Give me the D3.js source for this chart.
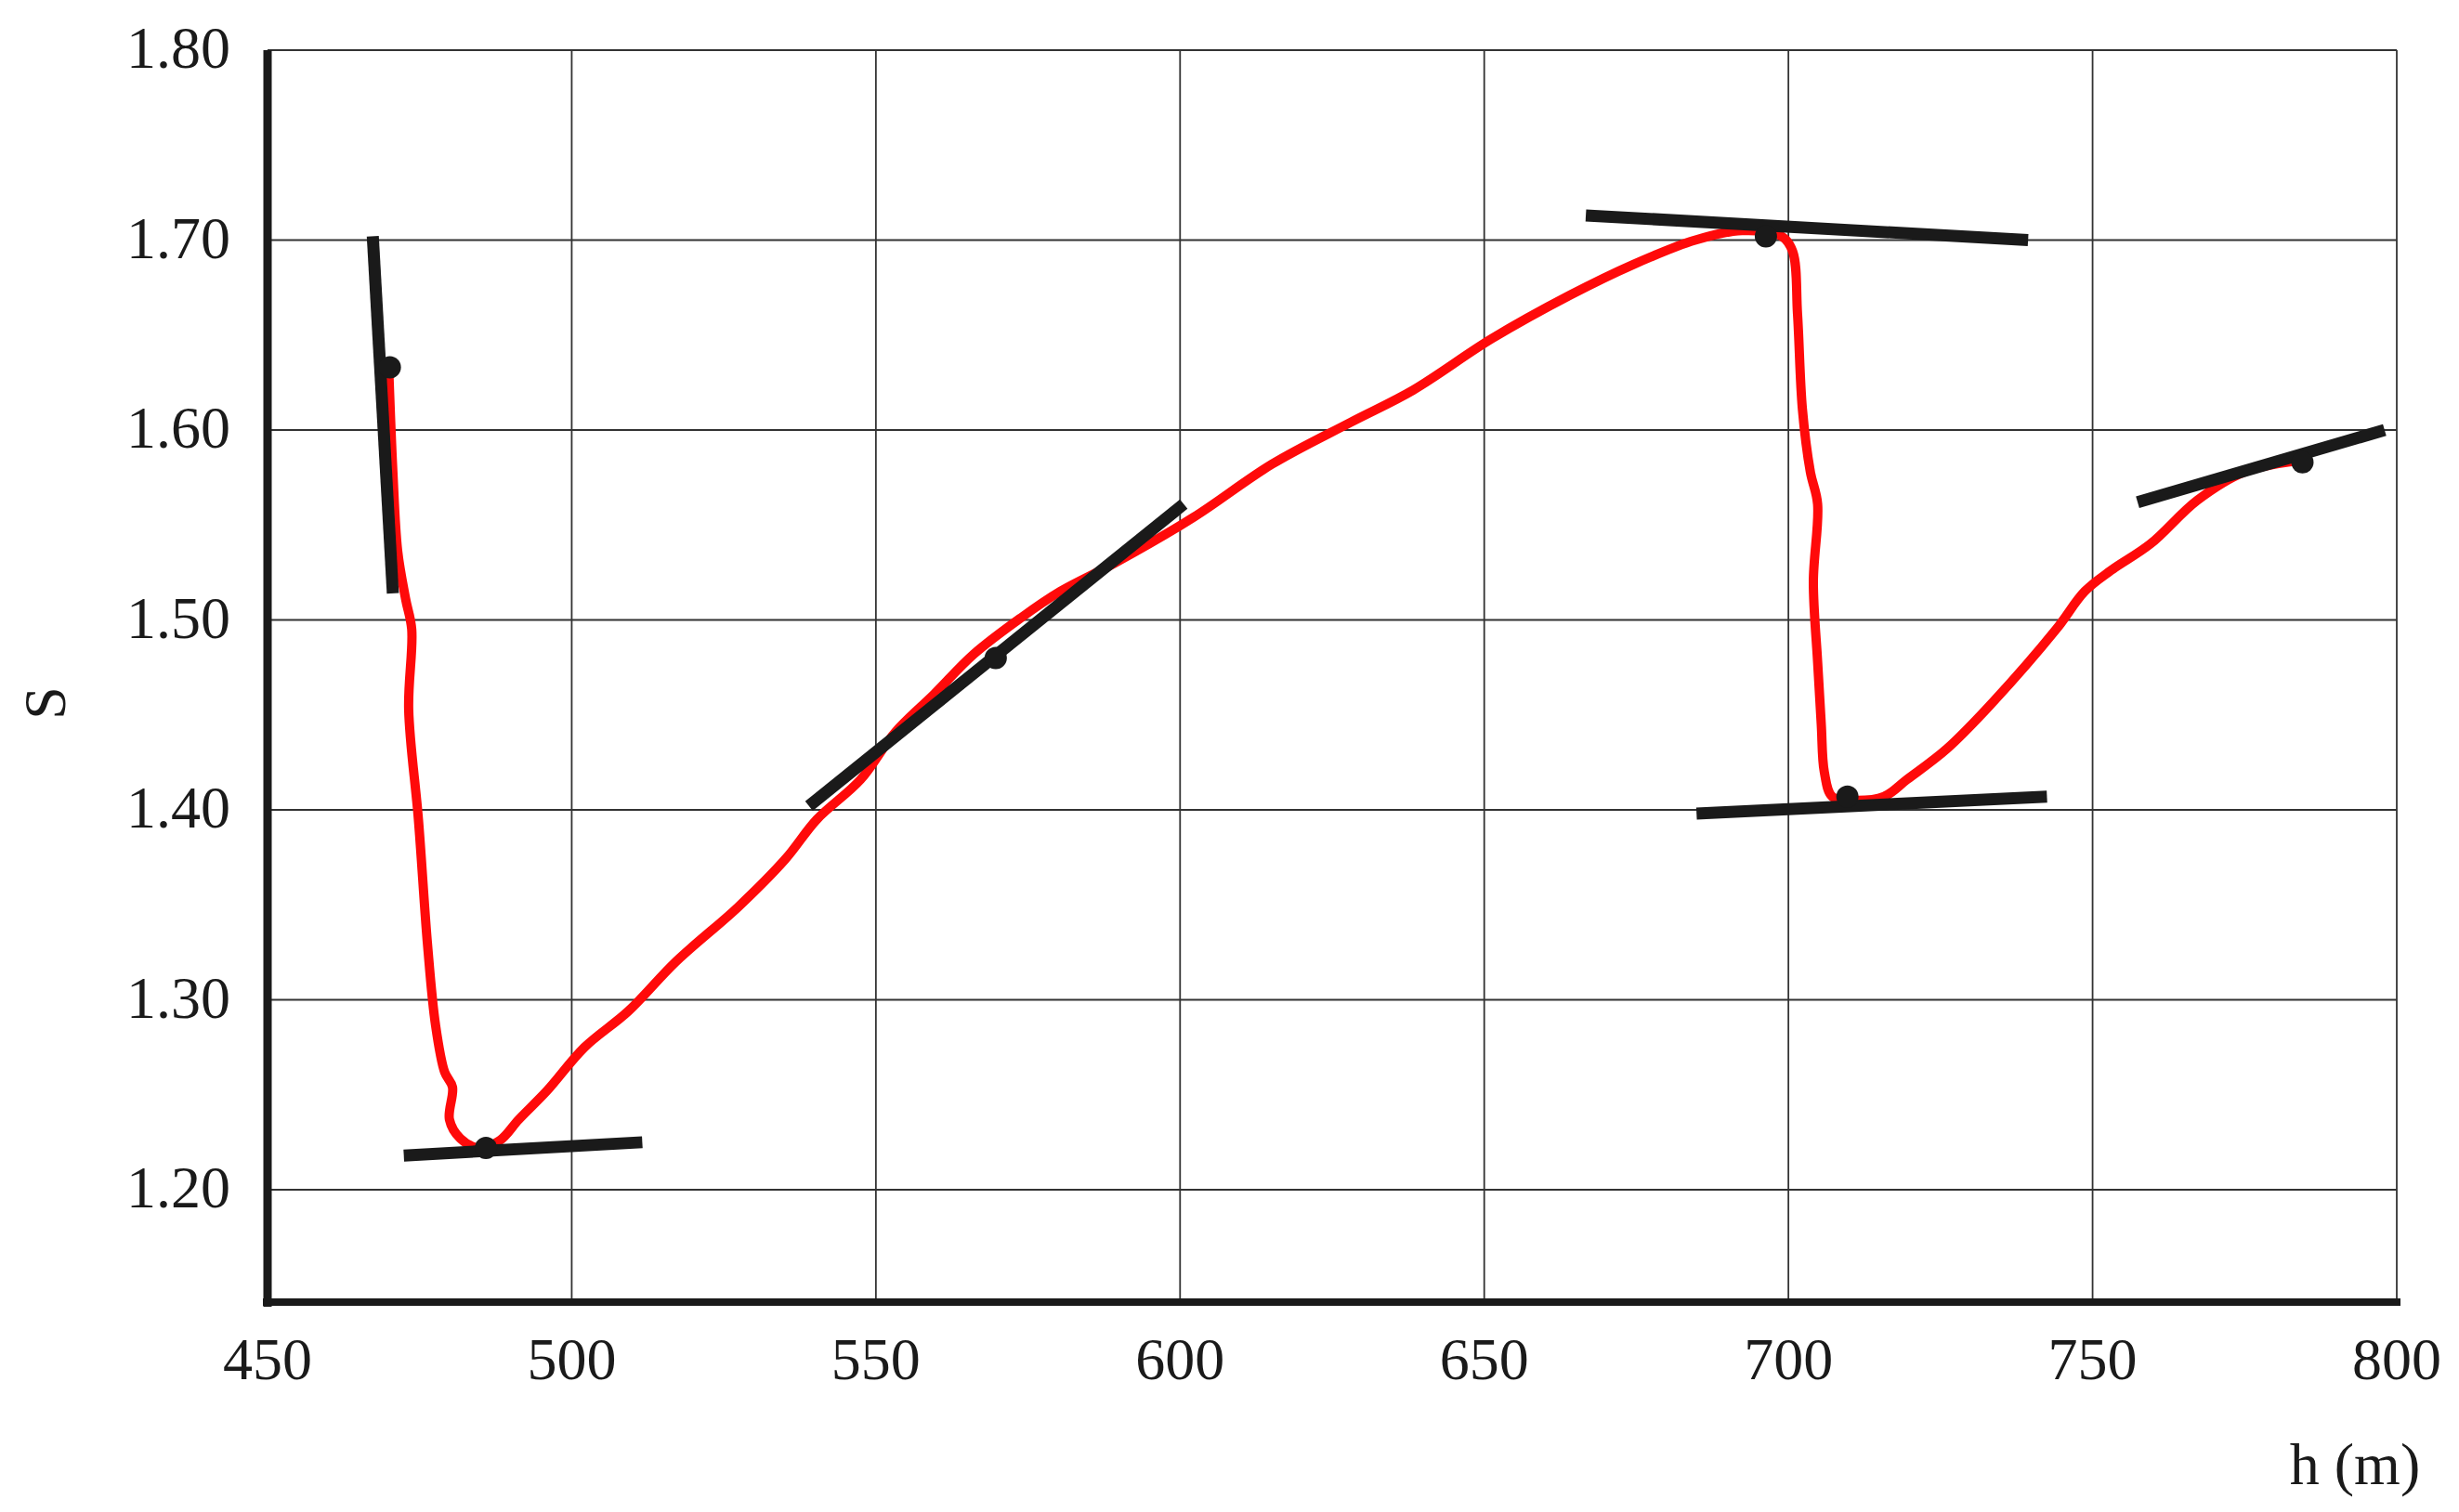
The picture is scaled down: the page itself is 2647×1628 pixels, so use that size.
<!DOCTYPE html>
<html>
<head>
<meta charset="utf-8">
<script src="https://cdn.jsdelivr.net/npm/d3@7"></script>
<style>
  body { margin: 0; background: #fff; }
  text { font-family: "Liberation Serif", "DejaVu Serif", serif; fill: #1a1a1a; }
</style>
</head>
<body>
<svg width="2647" height="1628"></svg>
<script>
// measured S curve, h (m) vs S
const curveH = [469.9, 470.6, 471.4, 472.7, 473.7, 473.2, 474.8, 476.3, 477.6, 479.1, 480.4, 479.9, 481.7, 484.8, 488.2, 491.3, 495.9, 502.1, 509.3, 517.1, 527.4, 535.1, 540.3, 547.5, 553.2, 559.6, 566.1, 573.8, 580.3, 589.3, 602.2, 615.1, 628.0, 638.3, 651.2, 664.1, 674.4, 684.7, 692.4, 698.9, 700.7, 701.5, 702.3, 703.6, 704.8, 704.1, 704.8, 705.4, 705.9, 707.2, 710.5, 715.7, 719.5, 726.0, 733.7, 744.0, 748.7, 753.0, 759.5, 767.2, 775.0, 784.0];
const curveS = [1.634, 1.578, 1.536, 1.511, 1.495, 1.453, 1.395, 1.329, 1.287, 1.262, 1.254, 1.237, 1.227, 1.222, 1.226, 1.237, 1.252, 1.275, 1.294, 1.320, 1.349, 1.374, 1.395, 1.416, 1.441, 1.461, 1.482, 1.501, 1.515, 1.530, 1.554, 1.582, 1.604, 1.621, 1.648, 1.671, 1.687, 1.700, 1.705, 1.702, 1.694, 1.661, 1.611, 1.578, 1.561, 1.520, 1.478, 1.445, 1.420, 1.407, 1.405, 1.407, 1.416, 1.432, 1.457, 1.495, 1.515, 1.526, 1.540, 1.563, 1.578, 1.584];

// tangent points
const pointH = [470.1, 485.9, 569.7, 696.3, 709.7, 784.5];
const pointS = [1.633, 1.222, 1.480, 1.702, 1.407, 1.583];

// tangent segments: [h1, S1, h2, S2]
const tangents = [
  [467.3, 1.702, 470.6, 1.514],
  [472.4, 1.218, 511.6, 1.225],
  [539.0, 1.402, 600.6, 1.561],
  [666.7, 1.713, 739.4, 1.700],
  [684.9, 1.398, 742.5, 1.407],
  [757.4, 1.562, 798.0, 1.600]
];

const xTicks = [450, 500, 550, 600, 650, 700, 750, 800];
const yTicks = [1.2, 1.3, 1.4, 1.5, 1.6, 1.7, 1.8];

const svg = d3.select("svg");
const left = 288, right = 2580;
const x = d3.scaleLinear().domain([450, 800]).range([left, right]);
const y = d3.scaleLinear().domain([1.2, 1.8]).range([1281, 54]);
const bottom = 1402;

// grid
svg.append("g").selectAll("line").data(xTicks.slice(1)).join("line")
  .attr("x1", d => x(d)).attr("x2", d => x(d))
  .attr("y1", y(1.8)).attr("y2", bottom)
  .attr("stroke", "#333").attr("stroke-width", 1.8);
svg.append("g").selectAll("line").data(yTicks).join("line")
  .attr("x1", left).attr("x2", right)
  .attr("y1", d => y(d)).attr("y2", d => y(d))
  .attr("stroke", "#333").attr("stroke-width", 1.8);

// axes
svg.append("line").attr("x1", left).attr("x2", left).attr("y1", y(1.8)).attr("y2", bottom + 5)
  .attr("stroke", "#1a1a1a").attr("stroke-width", 9);
svg.append("line").attr("x1", left - 5).attr("x2", right + 4).attr("y1", bottom).attr("y2", bottom)
  .attr("stroke", "#1a1a1a").attr("stroke-width", 8);

// tick labels
svg.append("g").selectAll("text").data(yTicks).join("text")
  .attr("x", 248).attr("y", d => y(d)).attr("dy", "0.3em")
  .attr("text-anchor", "end").attr("font-size", 64)
  .text(d => d3.format(".2f")(d));
svg.append("g").selectAll("text").data(xTicks).join("text")
  .attr("x", d => x(d)).attr("y", 1485)
  .attr("text-anchor", "middle").attr("font-size", 64)
  .text(d => d);

svg.append("text").attr("x", 2535).attr("y", 1598).attr("text-anchor", "middle")
  .attr("font-size", 64).text("h (m)");
svg.append("text").attr("transform", "translate(70,757) rotate(-90)")
  .attr("text-anchor", "middle").attr("font-size", 64).text("S");

// red curve
const line = d3.line().x(d => x(d[0])).y(d => y(d[1])).curve(d3.curveCatmullRom);
svg.append("path").datum(curveH.map((h, i) => [h, curveS[i]]))
  .attr("d", line).attr("fill", "none").attr("stroke", "#ff0a0a")
  .attr("stroke-width", 10).attr("stroke-linejoin", "round").attr("stroke-linecap", "round");

// tangents
svg.append("g").selectAll("line").data(tangents).join("line")
  .attr("x1", d => x(d[0])).attr("y1", d => y(d[1]))
  .attr("x2", d => x(d[2])).attr("y2", d => y(d[3]))
  .attr("stroke", "#1a1a1a").attr("stroke-width", 13);

// points
svg.append("g").selectAll("circle").data(pointH).join("circle")
  .attr("cx", d => x(d)).attr("cy", (d, i) => y(pointS[i]))
  .attr("r", 12).attr("fill", "#1a1a1a");
</script>
</body>
</html>
